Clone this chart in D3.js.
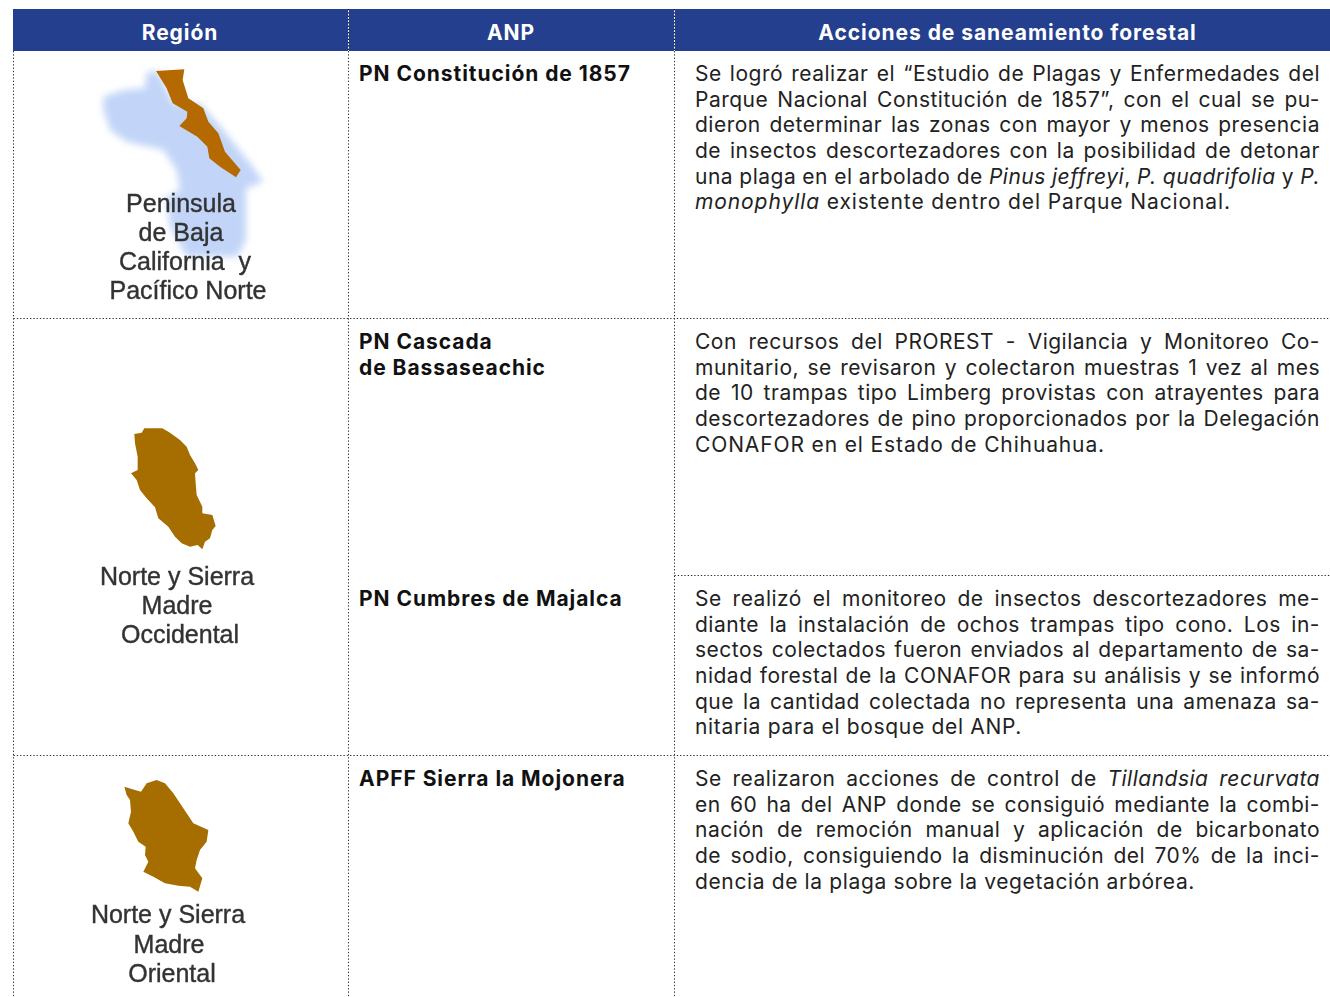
<!DOCTYPE html>
<html lang="es">
<head>
<meta charset="UTF-8">
<title>Acciones de saneamiento forestal</title>
<script src="https://d3js.org/d3.v7.min.js"></script>
<style>
  html, body { margin: 0; background: #fff; }
  svg { display: block; }
  text { font-family: Inter, "Open Sans", sans-serif; }
</style>
</head>
<body>
<svg width="1330" height="997"></svg>
<script>
// table content
const headers = ["Región", "ANP", "Acciones de saneamiento forestal"];
const anpNames = [
  ["PN Constitución de 1857"],
  ["PN Cascada", "de Bassaseachic"],
  ["PN Cumbres de Majalca"],
  ["APFF Sierra la Mojonera"]
];
// _text_ marks italics, a trailing "|" marks a last line (not justified)
const actions = [
  ["Se logró realizar el “Estudio de Plagas y Enfermedades del",
   "Parque Nacional Constitución de 1857”, con el cual se pu-",
   "dieron determinar las zonas con mayor y menos presencia",
   "de insectos descortezadores con la posibilidad de detonar",
   "una plaga en el arbolado de _Pinus jeffreyi_, _P. quadrifolia_ y _P._",
   "_monophylla_ existente dentro del Parque Nacional.|"],
  ["Con recursos del PROREST - Vigilancia y Monitoreo Co-",
   "munitario, se revisaron y colectaron muestras 1 vez al mes",
   "de 10 trampas tipo Limberg provistas con atrayentes para",
   "descortezadores de pino proporcionados por la Delegación",
   "CONAFOR en el Estado de Chihuahua.|"],
  ["Se realizó el monitoreo de insectos descortezadores me-",
   "diante la instalación de ochos trampas tipo cono. Los in-",
   "sectos colectados fueron enviados al departamento de sa-",
   "nidad forestal de la CONAFOR para su análisis y se informó",
   "que la cantidad colectada no representa una amenaza sa-",
   "nitaria para el bosque del ANP.|"],
  ["Se realizaron acciones de control de _Tillandsia recurvata_",
   "en 60 ha del ANP donde se consiguió mediante la combi-",
   "nación de remoción manual y aplicación de bicarbonato",
   "de sodio, consiguiendo la disminución del 70% de la inci-",
   "dencia de la plaga sobre la vegetación arbórea.|"]
];
const regionLabels = [
  ["Peninsula", "de Baja", "California  y", "Pacífico Norte"],
  ["Norte y Sierra", "Madre", "Occidental"],
  ["Norte y Sierra", "Madre", "Oriental"]
];

// map outlines, traced in pixels of 3x crops of each thumbnail
const bajaLand = [[310,290],[370,270],[435,265],[440,215],[475,215],[520,310],[600,310],[670,390],[750,490],[790,545],[738,565],[738,720],[712,770],[560,770],[510,680],[500,590],[540,570],[530,510],[490,450],[380,425],[330,390],[310,330]];
const bajaState = [[468,213],[553,208],[548,240],[565,295],[610,325],[625,365],[655,400],[675,455],[722,510],[708,532],[660,500],[628,475],[622,440],[592,410],[538,378],[560,355],[562,335],[518,310],[500,265]];
const occidentalState = [[28,42],[50,38],[58,25],[112,25],[135,38],[165,60],[185,80],[195,105],[210,130],[220,150],[210,160],[212,190],[215,225],[232,260],[232,280],[262,285],[272,318],[262,330],[255,355],[240,365],[232,388],[218,375],[195,380],[170,370],[150,350],[130,320],[100,295],[90,262],[65,235],[45,210],[35,180],[18,160],[38,150],[38,110],[30,70]];
const orientalState = [[28,35],[50,42],[78,50],[95,25],[125,15],[150,25],[175,55],[195,85],[215,115],[235,145],[280,165],[275,200],[255,225],[245,255],[240,280],[262,310],[250,350],[225,335],[190,332],[150,325],[115,305],[85,290],[100,260],[90,240],[92,215],[70,200],[55,170],[40,145],[48,110],[45,75],[35,60]];

const svg = d3.select("svg");
const blue = "#253f8f", dots = "#2b2b2b", dotDash = "1.3 2";

// layout scales
const colX = d3.scaleOrdinal().domain([0, 1, 2, 3]).range([13.5, 348.5, 674.5, 1330]);
const rowY = d3.scaleOrdinal().domain([0, 1, 2, 3, 4]).range([51, 318.5, 575.5, 755.5, 997]);
const headerX = [180, 511, 1007.5];
const rowStep = [25.55, 25.8, 25.7, 25.7];
const lastLineWidth = [536, 410, 327, 500];

const defs = svg.append("defs");
defs.append("filter").attr("id", "soft").append("feGaussianBlur").attr("stdDeviation", 0.6);
defs.append("filter").attr("id", "softer").append("feGaussianBlur").attr("stdDeviation", 3.5);

// header
svg.append("rect")
  .attr("x", 13).attr("y", 9)
  .attr("width", 1317).attr("height", 42)
  .attr("fill", blue);

svg.append("g").selectAll("text").data(headers).join("text")
  .attr("x", (d, i) => headerX[i])
  .attr("y", 39.5)
  .attr("text-anchor", "middle")
  .attr("fill", "#fff")
  .attr("font-size", 21)
  .attr("font-weight", 700)
  .style("letter-spacing", "0.95px")
  .text(d => d);

// separators
svg.append("g").selectAll("line").data([0, 1, 2]).join("line")
  .attr("x1", d => colX(d)).attr("x2", d => colX(d))
  .attr("y1", 51).attr("y2", 997)
  .attr("stroke", dots).attr("stroke-dasharray", dotDash);
svg.append("g").selectAll("line").data([1, 2]).join("line")
  .attr("x1", d => colX(d)).attr("x2", d => colX(d))
  .attr("y1", 9).attr("y2", 51)
  .attr("stroke", "#fff");
svg.append("g").selectAll("line").data([1, 2]).join("line")
  .attr("x1", d => colX(d)).attr("x2", d => colX(d))
  .attr("y1", 9).attr("y2", 51)
  .attr("stroke", "#111").attr("stroke-dasharray", dotDash);
const hLines = [[1, 0], [2, 2], [3, 0]];
svg.append("g").selectAll("line").data(hLines).join("line")
  .attr("x1", d => colX(d[1])).attr("x2", 1330)
  .attr("y1", d => rowY(d[0])).attr("y2", d => rowY(d[0]))
  .attr("stroke", dots).attr("stroke-dasharray", dotDash);

// ANP names
svg.append("g").selectAll("g").data(anpNames).join("g")
  .each(function (names, r) {
    d3.select(this).selectAll("text").data(names).join("text")
      .attr("x", colX(1) + 10.5)
      .attr("y", (d, i) => rowY(r) + 30.3 + i * 25.7)
      .attr("font-size", 21)
      .attr("font-weight", 700)
      .attr("fill", "#111")
      .style("letter-spacing", "0.95px")
      .text(d => d);
  });

// action paragraphs, justified to the column by word spacing
const textLeft = 695, textRight = 1320;
svg.append("g").selectAll("g").data(actions).join("g")
  .each(function (lines, r) {
    d3.select(this).selectAll("text").data(lines).join("text")
      .attr("x", textLeft)
      .attr("y", (d, i) => rowY(r) + 30.3 + i * rowStep[r])
      .attr("font-size", 21)
      .attr("fill", "#222")
      .style("letter-spacing", "0.5px")
      .each(function (line) {
        const t = d3.select(this);
        line.replace("|", "").split("_").forEach((part, k) => {
          if (part) t.append("tspan").attr("font-style", k % 2 ? "italic" : "normal").text(part);
        });
        const natural = this.getComputedTextLength();
        if (line.endsWith("|")) {
          const chars = line.replace(/[_|]/g, "").length;
          t.style("letter-spacing", 0.5 + (lastLineWidth[r] - natural) / chars + "px");
        } else {
          const gaps = line.split(" ").length - 1;
          t.style("word-spacing", (textRight - textLeft - natural) / gaps + "px");
        }
      });
  });

// region thumbnails: outline + blurred caption, like the small raster maps in the source
const thumbs = [
  { r: 0, ox: 0, oy: 0, shapes: [[bajaLand, "#c2d5f8", "softer"], [bajaState, "#b46a02", "soft"]], tx: [181, 181, 185, 188], ty: 212, step: 29, fs: 25 },
  { r: 1, ox: 125, oy: 420, shapes: [[occidentalState, "#a66e02", "soft"]], tx: [177, 177, 180], ty: 585, step: 29, fs: 25 },
  { r: 2, ox: 115, oy: 775, shapes: [[orientalState, "#a66e02", "soft"]], tx: [168, 169, 172], ty: 923, step: 29.5, fs: 25 }
];

thumbs.forEach(th => {
  const x = d3.scaleLinear().domain([0, 300]).range([th.ox, th.ox + 100]);
  const y = d3.scaleLinear().domain([0, 300]).range([th.oy, th.oy + 100]);
  const outline = d3.line().x(d => x(d[0])).y(d => y(d[1])).curve(d3.curveLinearClosed);
  th.shapes.forEach(s => {
    svg.append("path").attr("d", outline(s[0])).attr("fill", s[1]).attr("filter", `url(#${s[2]})`);
  });
  svg.append("g").attr("filter", "url(#soft)").selectAll("text").data(regionLabels[th.r]).join("text")
    .attr("x", (d, i) => th.tx[i])
    .attr("y", (d, i) => th.ty + i * th.step)
    .attr("text-anchor", "middle")
    .style("white-space", "pre")
    .style("font-family", "'Liberation Sans', Arial, sans-serif")
    .attr("font-size", th.fs)
    .attr("fill", "#333")
    .attr("stroke", "#333")
    .attr("stroke-width", 0.4)
    .text(d => d);
});
</script>
</body>
</html>
